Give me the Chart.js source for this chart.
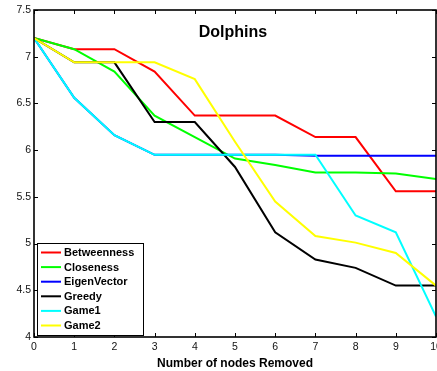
<!DOCTYPE html>
<html>
<head>
<meta charset="utf-8">
<script src="https://cdn.jsdelivr.net/npm/chart.js@4.4.1/dist/chart.umd.min.js"></script>
<style>
html,body{margin:0;padding:0;background:#fff;}
#wrap{width:437px;height:371px;}
</style>
</head>
<body>
<div id="wrap"><canvas id="c" width="437" height="371"></canvas></div>
<script>
const categories = [0,1,2,3,4,5,6,7,8,9,10];
const seriesNames = ['Betweenness','Closeness','EigenVector','Greedy','Game1','Game2'];
const seriesColors = ['#ff0000','#00ff00','#0000ff','#000000','#00ffff','#ffff00'];
const betweenness = [7.20,7.08,7.08,6.84,6.37,6.37,6.37,6.14,6.14,5.56,5.56];
const closeness   = [7.20,7.08,6.84,6.37,6.14,5.91,5.84,5.76,5.76,5.75,5.69];
const eigenvector = [7.20,6.56,6.16,5.95,5.95,5.95,5.95,5.94,5.94,5.94,5.94];
const greedy      = [7.20,6.94,6.94,6.30,6.30,5.82,5.12,4.83,4.74,4.55,4.55];
const game1       = [7.20,6.56,6.16,5.95,5.95,5.95,5.95,5.95,5.30,5.12,4.22];
const game2       = [7.20,6.94,6.94,6.94,6.76,6.09,5.45,5.08,5.01,4.90,4.55];
const seriesValues = [betweenness,closeness,eigenvector,greedy,game1,game2];
const yTickValues = [4,4.5,5,5.5,6,6.5,7,7.5];
const yTickLabels = ['4','4.5','5','5.5','6','6.5','7','7.5'];
const xTickLabels = ['0','1','2','3','4','5','6','7','8','9','10'];
const titleText = 'Dolphins';
const xAxisTitle = 'Number of nodes Removed';

const FONT = "'Liberation Sans', Arial, Helvetica, sans-serif";

const datasets = seriesNames.map((name,i)=>({
  label: name,
  data: categories.map((c,j)=>({x:c,y:seriesValues[i][j]})),
  borderColor: seriesColors[i],
  backgroundColor: seriesColors[i],
  borderWidth: 2,
  pointRadius: 0,
  tension: 0,
  fill: false,
  order: seriesNames.length - i
}));

const framePlugin = {
  id: 'frame',
  afterDatasetsDraw(chart){
    const {ctx, chartArea:a, scales} = chart;
    ctx.save();
    ctx.strokeStyle = '#000';
    ctx.lineWidth = 1;
    const tl = 4;
    ctx.beginPath();
    categories.forEach(v=>{
      const px = Math.round(scales.x.getPixelForValue(v)) + 0.5;
      ctx.moveTo(px, a.bottom); ctx.lineTo(px, a.bottom - tl);
      ctx.moveTo(px, a.top); ctx.lineTo(px, a.top + tl);
    });
    yTickValues.forEach(v=>{
      const py = Math.round(scales.y.getPixelForValue(v)) + 0.5;
      ctx.moveTo(a.left, py); ctx.lineTo(a.left + tl, py);
      ctx.moveTo(a.right, py); ctx.lineTo(a.right - tl, py);
    });
    ctx.stroke();
    ctx.lineWidth = 1.6;
    ctx.strokeRect(a.left, a.top, a.right - a.left, a.bottom - a.top);

    ctx.fillStyle = '#000';
    ctx.font = "bold 16px " + FONT;
    ctx.textAlign = 'center';
    ctx.textBaseline = 'alphabetic';
    ctx.fillText(titleText, 233, 37);

    const bx = 37, by = 243, bw = 106, bh = 92;
    ctx.fillStyle = '#fff';
    ctx.fillRect(bx, by, bw, bh);
    ctx.lineWidth = 1;
    ctx.strokeStyle = '#000';
    ctx.strokeRect(bx+0.5, by+0.5, bw, bh);
    ctx.font = "bold 11px " + FONT;
    ctx.textAlign = 'left';
    ctx.textBaseline = 'middle';
    seriesNames.forEach((n,i)=>{
      const y = 252.5 + i*14.6;
      ctx.strokeStyle = seriesColors[i];
      ctx.lineWidth = 2;
      ctx.beginPath(); ctx.moveTo(41,y); ctx.lineTo(61,y); ctx.stroke();
      ctx.fillStyle = '#000';
      ctx.fillText(n, 64, y+0.5);
    });
    ctx.restore();
  }
};

new Chart(document.getElementById('c'), {
  type: 'line',
  data: { datasets },
  options: {
    responsive: false,
    animation: false,
    devicePixelRatio: 1,
    layout: { padding: { left: 0, top: 10, right: 1, bottom: 0 } },
    plugins: { legend: { display: false }, tooltip: { enabled: false }, title: { display: false } },
    scales: {
      x: {
        type: 'linear', min: 0, max: 10,
        afterBuildTicks(s){ s.ticks = categories.map(v=>({value:v})); },
        afterFit(s){ s.height = 34; s.paddingLeft = 0; s.paddingRight = 0; },
        grid: { display: false, drawTicks: false },
        border: { display: false },
        ticks: {
          padding: 4, color: '#111', maxRotation: 0, autoSkip: false,
          font: { family: FONT, size: 10.5 },
          callback: (v)=> xTickLabels[categories.indexOf(v)] ?? ''
        },
        title: { display: true, text: xAxisTitle, color: '#000', padding: {top: 4, bottom: 0},
          font: { family: FONT, size: 12, weight: 'bold' } }
      },
      y: {
        type: 'linear', min: 4, max: 7.5,
        afterBuildTicks(s){ s.ticks = yTickValues.map(v=>({value:v})); },
        afterFit(s){ s.width = 34; s.paddingTop = 0; s.paddingBottom = 0; },
        grid: { display: false, drawTicks: false },
        border: { display: false },
        ticks: {
          padding: 3, color: '#111', autoSkip: false,
          font: { family: FONT, size: 10.5 },
          callback: (v)=> yTickLabels[yTickValues.indexOf(v)] ?? ''
        }
      }
    }
  },
  plugins: [framePlugin]
});
</script>
</body>
</html>
